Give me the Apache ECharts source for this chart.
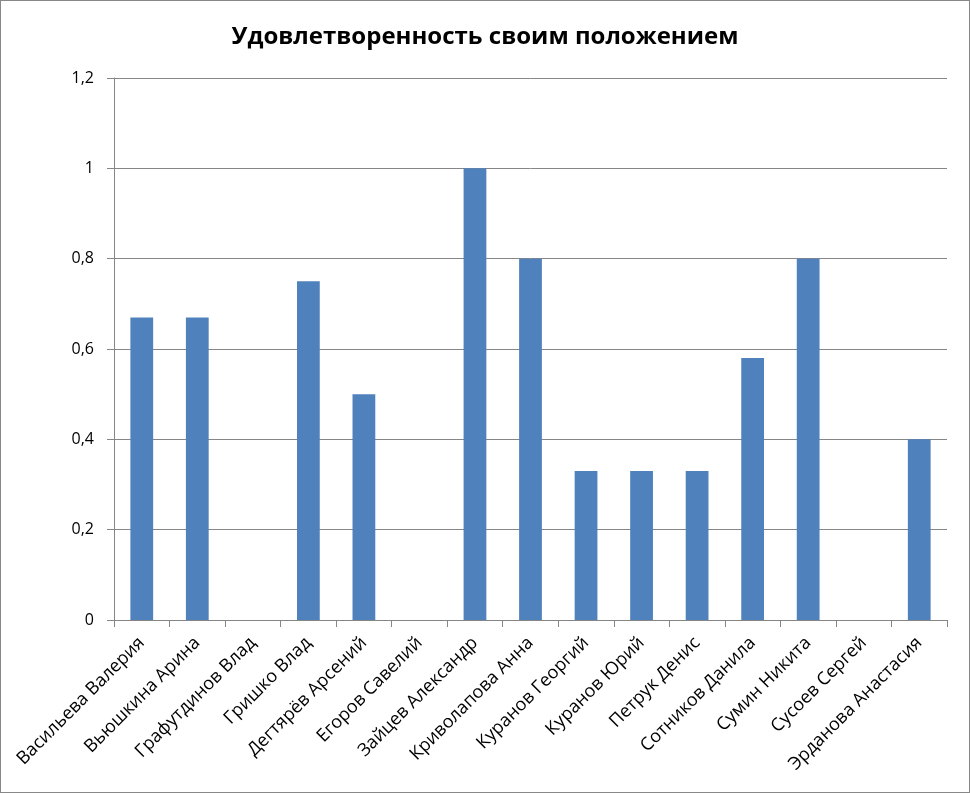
<!DOCTYPE html>
<html><head><meta charset="utf-8">
<script src="https://cdn.jsdelivr.net/npm/echarts@6/dist/echarts.min.js"></script>
<style>html,body{margin:0;padding:0;background:#fff}
#c{width:968px;height:791px;border:1px solid #888;}</style>
</head><body><div id="c"></div>
<script>
const categories = ["Васильева Валерия","Вьюшкина Арина","Графутдинов Влад","Гришко Влад","Дегтярёв Арсений","Егоров Савелий","Зайцев Александр","Криволапова Анна","Куранов Георгий","Куранов Юрий","Петрук Денис","Сотников Данила","Сумин Никита","Сусоев Сергей","Эрданова Анастасия"];
const values = [0.67,0.67,0,0.75,0.5,0,1,0.8,0.33,0.33,0.33,0.58,0.8,0,0.4];
const titleText = "Удовлетворенность своим положением";
const chart = echarts.init(document.getElementById('c'));
chart.setOption({
  animation:false,
  title:{text:titleText,left:'center',top:19,textStyle:{fontFamily:'Open Sans',fontWeight:'bold',fontSize:24,color:'#000'}},
  grid:{left:113,right:22,top:77,bottom:172,containLabel:false},
  xAxis:{type:'category',data:categories,
    axisLine:{lineStyle:{color:'#868686'}},
    axisTick:{show:true,length:7,lineStyle:{color:'#868686'}},
    axisLabel:{rotate:45,interval:0,fontFamily:'Open Sans',fontSize:18,color:'#000',margin:20}},
  yAxis:{type:'value',min:0,max:1.2,interval:0.2,
    axisLine:{show:true,lineStyle:{color:'#868686'}},
    axisTick:{show:true,length:7,lineStyle:{color:'#868686'}},
    splitLine:{lineStyle:{color:'#868686'}},
    axisLabel:{fontFamily:'Open Sans',fontSize:16,color:'#000',margin:20,
      formatter:v=>String(Math.round(v*10)/10).replace('.',',')}},
  series:[{type:'bar',data:values,barWidth:'41%',itemStyle:{color:'#4F81BD'}}]
});
</script></body></html>
